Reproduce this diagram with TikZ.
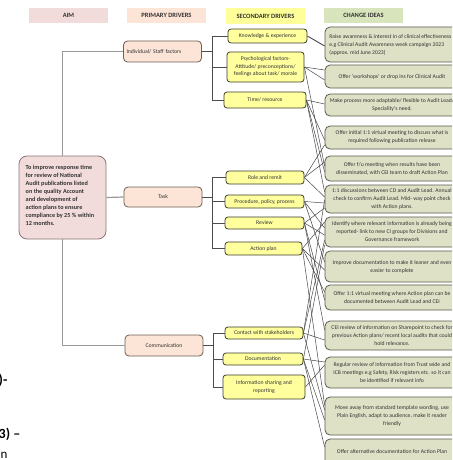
\documentclass[tikz,border=0pt]{standalone}
\usepackage{fontspec}
\setmainfont{Carlito}
\usetikzlibrary{calc}
\definecolor{aimfill}{HTML}{F2DCDB}
\definecolor{aimdraw}{HTML}{8C7676}
\definecolor{primfill}{HTML}{FCE4D6}
\definecolor{primdraw}{HTML}{6E5E55}
\definecolor{secfill}{HTML}{FFFF9E}
\definecolor{secdraw}{HTML}{3C3C30}
\definecolor{ideafill}{HTML}{DFE1C6}
\definecolor{ideadraw}{HTML}{5A5A4C}
\definecolor{hdrsec}{HTML}{FFFF99}
\definecolor{hdridea}{HTML}{D8E4BC}
\definecolor{txt}{HTML}{333333}
\begin{document}
\begin{tikzpicture}[x=1pt,y=-1pt,
  hdr/.style={minimum width=79pt,minimum height=15pt,inner sep=0pt,font=\fontsize{6.5}{7}\selectfont\bfseries,text=txt},
  aimbox/.style={draw=aimdraw,fill=aimfill,line width=0.8pt,rounded corners=8pt,inner sep=0pt},
  primbox/.style={draw=primdraw,fill=primfill,line width=0.8pt,rounded corners=4pt,inner sep=0pt,minimum height=21pt,minimum width=78pt,font=\fontsize{5.7}{6.5}\selectfont,text=txt},
  secbox/.style={draw=secdraw,fill=secfill,line width=0.8pt,rounded corners=3pt,inner sep=0pt,font=\fontsize{5.7}{7.5}\selectfont,text=txt,align=center},
  ideabox/.style={draw=ideadraw,fill=ideafill,line width=0.8pt,rounded corners=5pt,inner sep=0pt,minimum width=134pt,font=\fontsize{5.7}{8}\selectfont,text=txt,align=center},
  aimline/.style={draw=black!40,line width=1.2pt},
  busline/.style={draw=black!70,line width=0.6pt},
  xline/.style={draw=black!72,line width=0.5pt},
  frag/.style={anchor=west,inner sep=0pt,font=\fontsize{14}{14}\selectfont\bfseries,text=black}
]
\useasboundingbox (0,0) rectangle (452,460);
\fill[white] (0,0) rectangle (452,460);
\clip (0,0) rectangle (452,460);

% headers
\node[hdr,fill=aimfill] (haim) at (68.5,15.5) {AIM};
\node[hdr,fill=primfill] (hprim) at (166.5,15.5) {PRIMARY DRIVERS};
\node[hdr,fill=hdrsec,minimum height=16pt] (hsec) at (265.5,16) {SECONDARY DRIVERS};
\node[hdr,fill=hdridea] (hidea) at (363.5,15.5) {CHANGE IDEAS};

% aim
\node[aimbox,minimum width=87pt,minimum height=83pt] (aim) at (62.5,197.5) {};
\node[anchor=west,inner sep=0pt,align=left,font=\fontsize{6.2}{8}\selectfont\bfseries,text=txt] (aimtxt) at (25.5,195)
 {To improve response time\\for review of National\\Audit publications listed\\on the quality Account\\and development of\\action plans to ensure\\compliance by 25 \% within\\12 months.};

% primary drivers
\node[primbox,text width=72pt,align=left] (ind) at (162.5,51.5) {Individual/ Staff factors};
\node[primbox,minimum height=20pt] (task) at (163,197) {Task};
\node[primbox] (comm) at (164,345.5) {Communication};

% secondary drivers
\node[secbox,minimum width=79pt,minimum height=14pt] (s1) at (267.5,36) {Knowledge \& experience};
\node[secbox,minimum width=77pt,minimum height=30pt] (s2) at (265.5,67) {Psychological factors-\\Attitude/ preconceptions/\\feelings about task/ morale};
\node[secbox,minimum width=82pt,minimum height=16pt] (s3) at (265,100) {Time/ resource};
\node[secbox,minimum width=78pt,minimum height=13pt] (s4) at (265,177.5) {Role and remit};
\node[secbox,minimum width=79pt,minimum height=13pt] (s5) at (264.5,201.5) {Procedure, policy, process};
\node[secbox,minimum width=79pt,minimum height=12pt] (s6) at (264.5,223) {Review};
\node[secbox,minimum width=77pt,minimum height=13pt] (s7) at (263.5,248.5) {Action plan};
\node[secbox,minimum width=78pt,minimum height=12pt] (s8) at (264,333) {Contact with stakeholders};
\node[secbox,minimum width=80pt,minimum height=12pt] (s9) at (263,359) {Documentation};
\node[secbox,minimum width=82pt,minimum height=24pt] (s10) at (264,387) {Information sharing and\\reporting};

% change ideas
\node[ideabox,minimum height=35pt] (c1) at (392,44.5) {};
\node[anchor=west,inner sep=0pt,align=left,font=\fontsize{5.7}{8}\selectfont,text=txt] (c1t) at ($(c1.west)+(4.5,0)$)
 {Raise awareness \& interest in of clinical effectiveness\\e.g Clinical Audit Awareness week campaign 2023\\(approx. mid June 2023)};
\node[ideabox,minimum height=23pt] (c2) at (392,76.5) {Offer ‘workshops’ or drop ins for Clinical Audit};
\node[ideabox,minimum height=22pt] (c3) at (392,105) {Make process more adaptable/ flexible to Audit Lead/\\Speciality’s need.};
\node[ideabox,minimum height=23pt] (c4) at (392,137.5) {Offer initial 1:1 virtual meeting to discuss what is\\required following publication release};
\node[ideabox,minimum height=25pt] (c5) at (392,168.5) {Offer f/u meeting when results have been\\disseminated, with CEI team to draft Action Plan};
\node[ideabox,minimum height=28pt] (c6) at (392,199) {1:1 discussions between CD and Audit Lead. Annual\\check to confirm Audit Lead. Mid- way point check\\with Action plans.};
\node[ideabox,minimum height=30pt] (c7) at (392,232) {Identify where relevant information is already being\\reported- link to new CI groups for Divisions and\\Governance framework};
\node[ideabox,minimum height=31pt] (c8) at (392,266.5) {Improve documentation to make it leaner and even\\easier to complete};
\node[ideabox,minimum height=25pt] (c9) at (392,297.5) {Offer 1:1 virtual meeting where Action plan can be\\documented between Audit Lead and CEI};
\node[ideabox,minimum height=29pt] (c10) at (392,335.5) {CEI review of information on Sharepoint to check for\\previous Action plans/ recent local audits that could\\hold relevance.};
\node[ideabox,minimum height=31pt] (c11) at (392,372.5) {Regular review of information from Trust wide and\\ICB meetings e.g Safety, Risk registers etc. so it can\\be identified if relevant info};
\node[ideabox,minimum height=38pt] (c12) at (392,416) {Move away from standard template wording, use\\Plain English, adapt to audience, make it reader\\friendly};
\node[ideabox,minimum height=26pt] (c13) at (392,452) {Offer alternative documentation for Action Plan};

% aim connectors
\coordinate (aup) at (aim.north |- ind.west);
\coordinate (adn) at (aim.south |- comm.west);
\draw[aimline] (aim.north) -- (aup) -- (ind.west);
\draw[aimline] (aim.east) -- (task.west);
\draw[aimline] (aim.south) -- (adn) -- (comm.west);

% primary -> secondary buses
\coordinate (b1) at (212,51.5);
\draw[busline] (ind.east) -- (b1);
\draw[busline] (b1 |- s1.west) -- (s1.west);
\draw[busline] (b1 |- s2.west) -- (s2.west);
\draw[busline] (b1 |- s3.west) -- (s3.west);
\draw[busline] (b1 |- s1.west) -- (b1 |- s3.west);
\coordinate (b2) at (212,197);
\draw[busline] (task.east) -- (b2);
\draw[busline] (b2 |- s4.west) -- (s4.west);
\draw[busline] (b2 |- s5.west) -- (s5.west);
\draw[busline] (b2 |- s6.west) -- (s6.west);
\draw[busline] (b2 |- s7.west) -- (s7.west);
\draw[busline] (b2 |- s4.west) -- (b2 |- s7.west);
\coordinate (b3) at (213,345.5);
\draw[busline] (comm.east) -- (b3);
\draw[busline] (b3 |- s8.west) -- (s8.west);
\draw[busline] (b3 |- s9.west) -- (s9.west);
\draw[busline] (b3 |- s10.west) -- (s10.west);
\draw[busline] (b3 |- s8.west) -- (b3 |- s10.west);

% secondary -> change ideas
\draw[xline,line width=0.9pt] (s1.east) -- ($(c1.west)+(0,1.5)$);
\draw[xline] (s2.east) -- ($(c2.west)+(0,-6.5)$);
\draw[xline] (s2.east) -- ($(c2.west)+(0,3.5)$);
\draw[xline] (s2.east) -- ($(c5.west)+(0,-2.5)$);
\draw[xline] (s3.east) -- ($(c3.west)+(0,-1)$);
\draw[xline] (s3.east) -- ($(c4.west)+(0,2.5)$);
\draw[xline] (s3.east) -- ($(c5.west)+(0,3.5)$);
\draw[xline] (s3.east) -- ($(c6.west)+(0,-7)$);
\draw[xline] (s4.east) -- ($(c4.west)+(0,7.5)$);
\draw[xline] (s4.east) -- ($(c5.west)+(0,-6.5)$);
\draw[xline] (s4.east) -- ($(c6.west)+(0,-2)$);
\draw[xline] (s5.east) -- ($(c6.west)+(0,4)$);
\draw[xline] (s5.east) -- ($(c7.west)+(0,-4)$);
\draw[xline] (s5.east) -- ($(c8.west)+(0,-4.5)$);
\draw[xline] (s6.east) -- ($(c6.west)+(0,9)$);
\draw[xline] (s6.east) -- ($(c7.west)+(0,3)$);
\draw[xline] (s6.east) -- ($(c9.west)+(0,2.5)$);
\draw[xline] (s6.east) -- ($(c10.west)+(0,-5.5)$);
\draw[xline] (s7.east) -- ($(c7.west)+(0,-10)$);
\draw[xline] (s7.east) -- ($(c8.west)+(0,3.5)$);
\draw[xline] (s7.east) -- ($(c9.west)+(0,-5.5)$);
\draw[xline] (s7.east) -- ($(c12.west)+(0,-11)$);
\draw[xline] (s8.east) -- ($(c6.west)+(0,1)$);
\draw[xline] (s8.east) -- ($(c7.west)+(0,8)$);
\draw[xline] (s8.east) -- ($(c10.west)+(0,4.5)$);
\draw[xline] (s8.east) -- ($(c12.west)+(0,-6)$);
\draw[xline] (s9.east) -- ($(c7.west)+(0,13)$);
\draw[xline] (s9.east) -- ($(c11.west)+(0,-10.5)$);
\draw[xline] (s9.east) -- ($(c12.west)+(0,4)$);
\draw[xline] (s9.east) -- ($(c13.west)+(0,-5)$);
\draw[xline] (s10.east) -- ($(c11.west)+(0,-7.5)$);

% cut-off text fragments at the left edge
\node[frag] (f1) at (-1.5,380) {)-};
\node[frag] (f2) at (-1.5,434) {3) –};
\node[frag,font=\fontsize{13}{13}\selectfont,anchor=base west] (f3) at (0.5,458.5) {n};
\end{tikzpicture}
\end{document}
